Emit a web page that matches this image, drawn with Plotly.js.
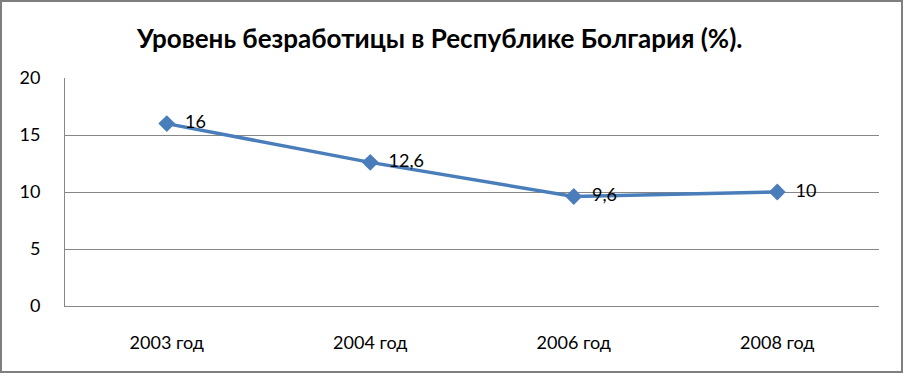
<!DOCTYPE html>
<html>
<head>
<meta charset="utf-8">
<script src="https://cdn.plot.ly/plotly-3.0.1.min.js"></script>
<style>
html,body{margin:0;padding:0;background:#fff;}
#wrap{position:relative;width:903px;height:373px;}
#chart{width:903px;height:373px;}
#frame{position:absolute;left:0;top:0;width:903px;height:373px;box-sizing:border-box;border:2px solid #7f7f7f;pointer-events:none;}
</style>
</head>
<body>
<div id="wrap"><div id="chart"></div><div id="frame"></div></div>
<script>
const categories = ['2003 год', '2004 год', '2006 год', '2008 год'];
const unemployment = [16, 12.6, 9.6, 10];
const yTicks = [0, 5, 10, 15, 20];
const chartTitle = 'Уровень безработицы в Республике Болгария (%).';

const labels = unemployment.map(v => '\u00a0\u00a0' + String(v).replace('.', ','));

const trace = {
  x: categories,
  y: unemployment,
  type: 'scatter',
  mode: 'lines+markers+text',
  text: labels,
  textposition: 'middle right',
  textfont: {family: 'Lato, "Open Sans", sans-serif', size: 18, color: '#000'},
  line: {color: '#4A7EBB', width: 3.5},
  marker: {symbol: 'diamond', size: 13, color: '#4A7EBB'},
  cliponaxis: false,
  hoverinfo: 'skip'
};

const layout = {
  width: 903,
  height: 373,
  margin: {l: 65, r: 24, t: 78, b: 67},
  paper_bgcolor: '#fff',
  plot_bgcolor: '#fff',
  showlegend: false,
  separators: ', ',
  title: {
    text: chartTitle,
    font: {family: 'Lato, "Open Sans", sans-serif', size: 26, color: '#000', weight: 'bold'},
    x: 0.487, xanchor: 'center',
    y: 0.895, yanchor: 'middle', yref: 'container'
  },
  xaxis: {
    type: 'category',
    range: [-0.5, 3.5],
    showgrid: false,
    showline: true,
    linecolor: '#868686',
    linewidth: 1,
    ticks: '',
    ticklabelstandoff: 20,
    tickfont: {family: 'Lato, "Open Sans", sans-serif', size: 18, color: '#000'},
    fixedrange: true
  },
  yaxis: {
    range: [0, 20],
    tickvals: yTicks,
    showgrid: true,
    gridcolor: '#868686',
    gridwidth: 1,
    showline: true,
    linecolor: '#868686',
    linewidth: 1,
    zeroline: false,
    ticks: '',
    ticklabelstandoff: 20,
    tickfont: {family: 'Lato, "Open Sans", sans-serif', size: 18, color: '#000'},
    fixedrange: true
  }
};

Plotly.newPlot('chart', [trace], layout, {displayModeBar: false, staticPlot: true});
</script>
</body>
</html>
